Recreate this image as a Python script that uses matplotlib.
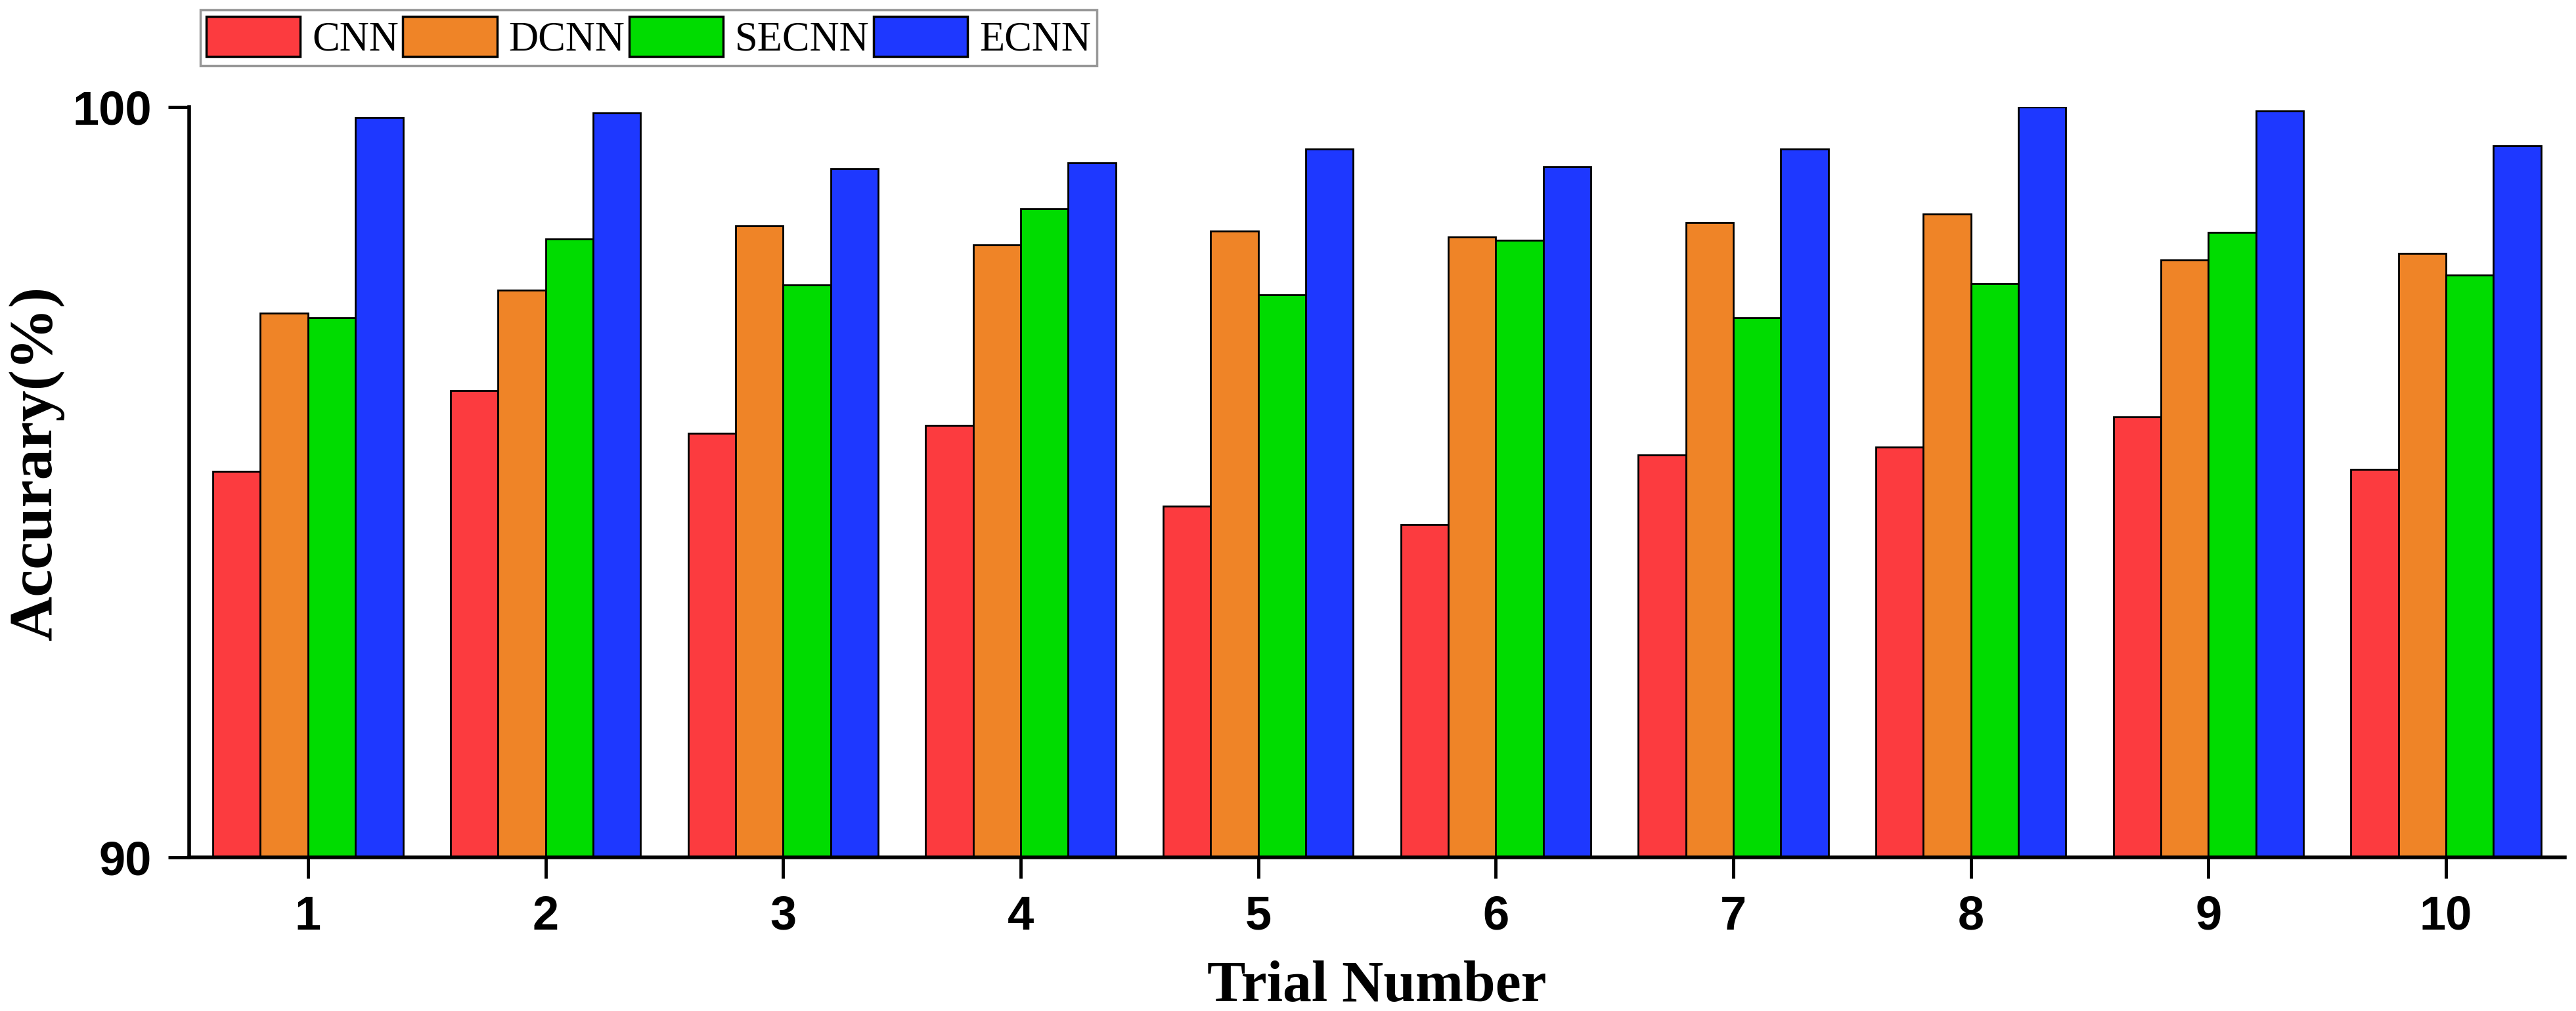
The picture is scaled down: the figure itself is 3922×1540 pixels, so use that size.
import matplotlib
matplotlib.use("Agg")
import matplotlib.pyplot as plt
import numpy as np

trials = [1, 2, 3, 4, 5, 6, 7, 8, 9, 10]
series_names = ["CNN", "DCNN", "SECNN", "ECNN"]
cnn = [95.14, 96.22, 95.65, 95.76, 94.68, 94.44, 95.36, 95.47, 95.87, 95.17]
dcnn = [97.25, 97.56, 98.42, 98.16, 98.35, 98.27, 98.46, 98.57, 97.96, 98.05]
secnn = [97.19, 98.24, 97.63, 98.64, 97.50, 98.22, 97.19, 97.65, 98.33, 97.76]
ecnn = [99.86, 99.92, 99.18, 99.26, 99.44, 99.20, 99.44, 100.0, 99.95, 99.48]
colors = ["#FC3B3F", "#EF8427", "#00DC00", "#1E38FF"]
y_ticks = [90, 100]

fig = plt.figure(figsize=(39.23, 15.4), dpi=100)
ax = fig.add_axes([0.07341, 0.15195, 0.92200, 0.74221])

x = np.array(trials, dtype=float)
width = 0.2
offsets = [-1.5, -0.5, 0.5, 1.5]
handles = []
for vals, name, col, off in zip([cnn, dcnn, secnn, ecnn], series_names, colors, offsets):
    h = ax.bar(x + off * width, vals, width=width, color=col, edgecolor="black",
               linewidth=2.0, label=name, zorder=2)
    handles.append(h)

ax.set_xlim(0.5, 10.5)
ax.set_ylim(90, 100)
ax.set_xticks(trials)
ax.set_xticklabels([str(t) for t in trials])
ax.set_yticks(y_ticks)
ax.set_yticklabels([str(t) for t in y_ticks])

for s in ["top", "right"]:
    ax.spines[s].set_visible(False)
for s in ["left", "bottom"]:
    ax.spines[s].set_linewidth(4.0)
    ax.spines[s].set_zorder(3)

ax.tick_params(axis="both", direction="out", length=23, width=3.5, pad=18,
               labelsize=52, color="black")
for lab in ax.get_xticklabels() + ax.get_yticklabels():
    lab.set_family("Liberation Sans")
    lab.set_fontweight("bold")

ax.set_xlabel("Trial Number", fontsize=63, fontweight="bold", family="Liberation Serif")
ax.xaxis.label.set_va("baseline")
ax.xaxis.set_label_coords(0.5, -0.1916)

ax.set_ylabel("Accurary(%)", fontsize=68, fontweight="bold", family="Liberation Serif")
ax.yaxis.label.set_rotation_mode("anchor")
ax.yaxis.label.set_ha("center")
ax.yaxis.label.set_va("baseline")
ax.yaxis.set_label_coords(-0.0580, 0.525)

leg = fig.legend(handles=handles, labels=series_names, loc="upper left",
                 bbox_to_anchor=(0.0777, 0.990), bbox_transform=fig.transFigure,
                 ncol=4, frameon=True, fancybox=False, shadow=False,
                 prop={"family": "Liberation Serif", "size": 45},
                 handlelength=2.29, handleheight=1.14, handletextpad=0.29,
                 columnspacing=0.1, borderpad=0.15, borderaxespad=0.0)
leg.get_frame().set_edgecolor("#7f7f7f")
leg.get_frame().set_linewidth(2.5)
for p in leg.get_patches():
    p.set_linewidth(2.5)

fig.savefig("out.png", dpi=100)
